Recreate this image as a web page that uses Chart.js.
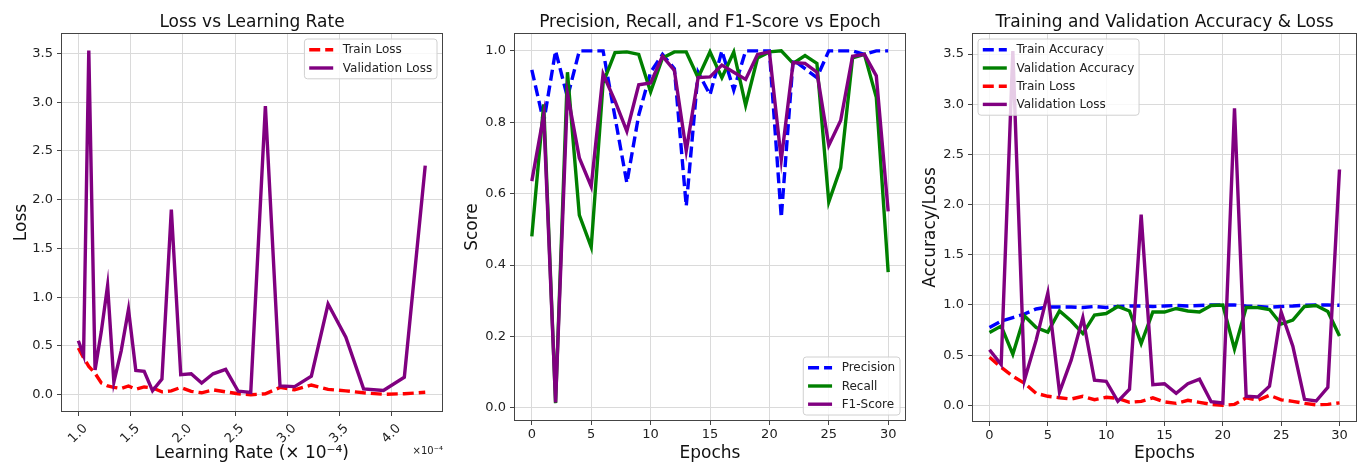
<!DOCTYPE html>
<html>
<head>
<meta charset="utf-8">
<script src="https://cdn.jsdelivr.net/npm/chart.js@4.4.1/dist/chart.umd.min.js"></script>
<style>
  html,body{margin:0;padding:0;background:#fff;}
  #wrap{position:relative;width:1365px;height:468px;}
  .panel{position:absolute;top:0;width:455px;height:468px;}
</style>
</head>
<body>
<div id="wrap">
  <div class="panel" style="left:0"><canvas id="c1" width="455" height="468"></canvas></div>
  <div class="panel" style="left:455px"><canvas id="c2" width="455" height="468"></canvas></div>
  <div class="panel" style="left:910px"><canvas id="c3" width="455" height="468"></canvas></div>
</div>
<script>
/* ---------- data ---------- */
const epochs = [0,1,2,3,4,5,6,7,8,9,10,11,12,13,14,15,16,17,18,19,20,21,22,23,24,25,26,27,28,29,30];
// learning rate per epoch (x 1e-4)
const learningRates = [1.00,1.05,1.10,1.16,1.22,1.28,1.34,1.41,1.48,1.55,1.63,1.71,1.80,1.89,1.98,2.08,
  2.18,2.29,2.41,2.53,2.65,2.79,2.93,3.07,3.23,3.39,3.56,3.73,3.92,4.12,4.32];

const trainLoss = [0.48,0.38,0.29,0.22,0.12,0.09,0.076,0.063,0.09,0.056,0.08,0.07,0.03,0.04,0.075,0.035,
  0.02,0.05,0.03,0.01,0.0,0.01,0.075,0.05,0.10,0.055,0.04,0.02,0.005,0.01,0.025];
const valLoss = [0.554,0.406,3.53,0.254,0.65,1.12,0.13,0.45,0.875,0.25,0.24,0.04,0.16,1.90,0.205,0.215,
  0.12,0.215,0.26,0.036,0.023,2.96,0.09,0.083,0.19,0.93,0.59,0.06,0.043,0.18,2.35];
const trainAcc = [0.776,0.84,0.875,0.91,0.96,0.98,0.98,0.98,0.975,0.985,0.975,0.985,0.99,0.99,0.985,0.99,
  0.995,0.99,0.995,1.0,1.0,1.0,0.99,0.985,0.977,0.985,0.99,0.998,1.0,1.0,0.997];
const valAcc = [0.726,0.79,0.51,0.89,0.775,0.73,0.94,0.84,0.715,0.90,0.915,0.985,0.94,0.615,0.93,0.93,
  0.965,0.94,0.93,0.995,1.0,0.56,0.975,0.975,0.955,0.81,0.85,0.985,0.995,0.935,0.69];

const precision = [0.947,0.80,1.0,0.87,1.0,1.0,1.0,0.815,0.63,0.82,0.94,0.99,0.95,0.565,0.94,0.877,
  1.0,0.89,1.0,1.0,1.0,0.533,0.975,0.95,0.925,1.0,1.0,1.0,0.99,1.0,1.0];
const recall = [0.48,0.85,0.013,0.94,0.54,0.45,0.91,0.995,0.997,0.99,0.885,0.98,0.997,0.997,0.925,0.997,
  0.925,0.997,0.847,0.98,0.997,1.0,0.965,0.987,0.965,0.577,0.672,0.98,0.99,0.87,0.38];
const f1Score = [0.635,0.82,0.015,0.88,0.70,0.62,0.935,0.86,0.775,0.905,0.91,0.985,0.945,0.72,0.925,0.927,
  0.96,0.94,0.92,0.99,0.997,0.695,0.967,0.965,0.94,0.735,0.805,0.985,0.99,0.93,0.55];

const lrTicks = [1.0,1.5,2.0,2.5,3.0,3.5,4.0];
const epochTicks = [0,5,10,15,20,25,30];
const lossTicks = [0.0,0.5,1.0,1.5,2.0,2.5,3.0,3.5];
const scoreTicks = [0.0,0.2,0.4,0.6,0.8,1.0];

/* ---------- helpers ---------- */
const FONT = '"DejaVu Sans", sans-serif';
const pts = (xs, ys) => xs.map((x, i) => ({x, y: ys[i]}));
const DASH = [11, 5];

function line(label, xs, ys, color, dashed, order){
  return {label, data: pts(xs, ys), borderColor: color, backgroundColor: color,
    borderWidth: 3.4, borderDash: dashed ? DASH : [], pointRadius: 0, tension: 0, fill: false, order};
}

// frame around plot area + optional offset text
const frame = {
  id: 'frame',
  afterDraw(chart, args, o){
    const {ctx, chartArea: a} = chart;
    ctx.save();
    ctx.strokeStyle = '#444'; ctx.lineWidth = 1;
    ctx.strokeRect(Math.round(a.left)+0.5, Math.round(a.top)+0.5, Math.round(a.width)-1, Math.round(a.height)-1);
    if (o.offsetText){
      ctx.font = '10px ' + FONT; ctx.fillStyle = '#222';
      ctx.textAlign = 'right'; ctx.textBaseline = 'alphabetic';
      ctx.fillText(o.offsetText, a.right, a.bottom + 42);
    }
    ctx.restore();
  }
};

// matplotlib-like legend box inside the axes
const boxLegend = {
  id: 'boxLegend',
  afterDatasetsDraw(chart, args, o){
    const {ctx, chartArea: a} = chart;
    const sets = chart.data.datasets;
    ctx.save();
    ctx.font = '12px ' + FONT;
    const tw = Math.max(...sets.map(d => ctx.measureText(d.label).width));
    const pad = 4.8, hl = 24, gap = 9.6, rowH = 12, sp = 6.2;
    const w = pad + hl + gap + tw + pad;
    const h = 2*pad + sets.length*rowH + (sets.length-1)*sp;
    const x = o.corner[1] === 'l' ? a.left + 6 : a.right - 6 - w;
    const y = o.corner[0] === 'u' ? a.top + 6 : a.bottom - 6 - h;
    ctx.beginPath(); ctx.roundRect(x, y, w, h, 3);
    ctx.fillStyle = 'rgba(255,255,255,0.8)'; ctx.fill();
    ctx.strokeStyle = '#d0d0d0'; ctx.lineWidth = 1; ctx.stroke();
    sets.forEach((d, i) => {
      const cy = y + pad + rowH/2 + i*(rowH+sp);
      ctx.beginPath(); ctx.setLineDash(d.borderDash || []);
      ctx.strokeStyle = d.borderColor; ctx.lineWidth = d.borderWidth;
      ctx.moveTo(x+pad, cy); ctx.lineTo(x+pad+hl, cy); ctx.stroke();
      ctx.setLineDash([]);
      ctx.fillStyle = '#222'; ctx.textAlign = 'left'; ctx.textBaseline = 'middle';
      ctx.fillText(d.label, x+pad+hl+gap, cy+0.5);
    });
    ctx.restore();
  }
};

function makeChart(id, cfg){
  const xScale = {
    type: 'linear', min: cfg.xMin, max: cfg.xMax,
    afterBuildTicks: s => { s.ticks = cfg.xTicks.map(v => ({value: v})); },
    afterFit: s => { s.height = cfg.xHeight; },
    grid: {color: '#dadada', lineWidth: 1, tickColor: '#444', tickLength: 4},
    border: {display: false},
    ticks: {font: {family: FONT, size: 13}, color: '#222', padding: cfg.xPad || 2, autoSkip: false,
      minRotation: cfg.rot || 0, maxRotation: cfg.rot || 0, labelOffset: cfg.labelOffset || 0,
      callback: cfg.xFmt},
    title: {display: true, text: cfg.xTitle, font: {family: FONT, size: 17}, color: '#111',
      padding: {top: 0, bottom: 4}}
  };
  const yScale = {
    type: 'linear', min: cfg.yMin, max: cfg.yMax,
    afterBuildTicks: s => { s.ticks = cfg.yTicks.map(v => ({value: v})); },
    afterFit: s => { s.width = cfg.yWidth; },
    grid: {color: '#dadada', lineWidth: 1, tickColor: '#444', tickLength: 4},
    border: {display: false},
    ticks: {font: {family: FONT, size: 13}, color: '#222', padding: 4, callback: v => v.toFixed(1)},
    title: {display: true, text: cfg.yTitle, font: {family: FONT, size: 17}, color: '#111',
      padding: {top: cfg.yTitlePad, bottom: 0}}
  };
  return new Chart(document.getElementById(id), {
    type: 'line',
    data: {datasets: cfg.datasets},
    options: {
      responsive: false, animation: false, devicePixelRatio: 1,
      layout: {padding: {top: 0, left: 0, right: cfg.padRight, bottom: 0}},
      scales: {x: xScale, y: yScale},
      plugins: {
        legend: {display: false}, tooltip: {enabled: false},
        title: {display: true, text: cfg.title, fullSize: false, color: '#111',
          font: {family: FONT, size: 17, weight: 'normal'}, padding: {top: 12, bottom: 0.6}},
        boxLegend: {corner: cfg.corner},
        frame: {offsetText: cfg.offsetText}
      }
    },
    plugins: [boxLegend, frame]
  });
}

/* ---------- panel 1: loss vs learning rate ---------- */
makeChart('c1', {
  title: 'Loss vs Learning Rate',
  xTitle: 'Learning Rate (\u00d7 10\u207b\u2074)', yTitle: 'Loss',
  xMin: 0.834, xMax: 4.49, yMin: -0.177, yMax: 3.71,
  xTicks: lrTicks, yTicks: lossTicks, xFmt: v => v.toFixed(1),
  rot: 45, labelOffset: 7, xPad: 5,
  xHeight: 56, yWidth: 61, yTitlePad: 11, padRight: 12, corner: 'ur', offsetText: '\u00d710\u207b\u2074',
  datasets: [
    line('Train Loss', learningRates, trainLoss, '#ff0000', true, 1),
    line('Validation Loss', learningRates, valLoss, '#800080', false, 0)
  ]
});

/* ---------- panel 2: precision / recall / f1 ---------- */
makeChart('c2', {
  title: 'Precision, Recall, and F1-Score vs Epoch',
  xTitle: 'Epochs', yTitle: 'Score',
  xMin: -1.5, xMax: 31.5, yMin: -0.037, yMax: 1.05,
  xTicks: epochTicks, yTicks: scoreTicks, xFmt: v => String(v),
  xHeight: 47, yWidth: 59, yTitlePad: 7.5, padRight: 4, corner: 'lr',
  datasets: [
    line('Precision', epochs, precision, '#0000ff', true, 2),
    line('Recall', epochs, recall, '#008000', false, 1),
    line('F1-Score', epochs, f1Score, '#800080', false, 0)
  ]
});

/* ---------- panel 3: accuracy & loss ---------- */
makeChart('c3', {
  title: 'Training and Validation Accuracy & Loss',
  xTitle: 'Epochs', yTitle: 'Accuracy/Loss',
  xMin: -1.5, xMax: 31.5, yMin: -0.166, yMax: 3.71,
  xTicks: epochTicks, yTicks: lossTicks, xFmt: v => String(v),
  xHeight: 46, yWidth: 62, yTitlePad: 10, padRight: 8, corner: 'ul',
  datasets: [
    line('Train Accuracy', epochs, trainAcc, '#0000ff', true, 3),
    line('Validation Accuracy', epochs, valAcc, '#008000', false, 2),
    line('Train Loss', epochs, trainLoss, '#ff0000', true, 1),
    line('Validation Loss', epochs, valLoss, '#800080', false, 0)
  ]
});
</script>
</body>
</html>
